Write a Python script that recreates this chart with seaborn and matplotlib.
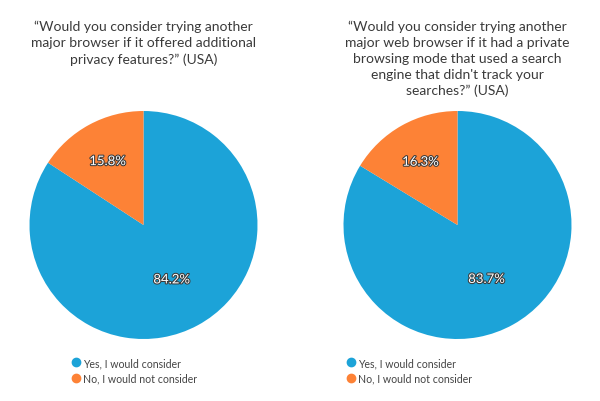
import matplotlib
matplotlib.use('Agg')
import numpy as np
import seaborn as sns
import matplotlib.pyplot as plt
import matplotlib.patheffects as pe
from matplotlib.lines import Line2D

sns.set_theme(style='white')
plt.rcParams['font.family'] = ['Lato', 'DejaVu Sans']

labels = ['Yes, I would consider', 'No, I would not consider']
left_vals = [84.2, 15.8]
right_vals = [83.7, 16.3]
titles = [
    '\u201cWould you consider trying another\nmajor browser if it offered additional\nprivacy features?\u201d (USA)',
    '\u201cWould you consider trying another\nmajor web browser if it had a private\nbrowsing mode that used a search\nengine that didn\'t track your\nsearches?\u201d (USA)',
]
colors = ['#1ca3d8', '#fd8236']

fig = plt.figure(figsize=(6, 4.02), dpi=100)
fig.patch.set_facecolor('white')

centers_px = [143.5, 457.5]
radius_px = 114
cy_px = 226
W, H = 600, 402

for i, vals in enumerate([left_vals, right_vals]):
    cx = centers_px[i]
    ax = fig.add_axes([(cx - radius_px) / W, (H - cy_px - radius_px) / H,
                       2 * radius_px / W, 2 * radius_px / H])
    wedges, texts, autotexts = ax.pie(
        vals, colors=colors, startangle=90, counterclock=False,
        autopct='%.1f%%', pctdistance=0.55,
        wedgeprops=dict(linewidth=0),
        textprops=dict(color='white', fontsize=9.5))
    # small slice label sits further out than the big one
    for w, t, v in zip(wedges, autotexts, vals):
        ang = np.deg2rad((w.theta1 + w.theta2) / 2)
        d = 0.52 if v > 50 else 0.66
        t.set_position((d * np.cos(ang), d * np.sin(ang) - 0.02))
        t.set_path_effects([pe.withStroke(linewidth=1.5, foreground='#3a3a3a')])
    ax.set_xlim(-1, 1)
    ax.set_ylim(-1, 1)
    ax.set_aspect('equal')
    ax.axis('off')

    fig.text(cx / W, 1 - 21 / H, titles[i], ha='center', va='top',
             fontsize=10, color='#3a3a3a', linespacing=1.38)

    handles = [Line2D([0], [0], marker='o', linestyle='', markersize=6,
                      markerfacecolor=c, markeredgecolor=c) for c in colors]
    leg_x = [71, 346][i]
    fig.legend(handles, labels, loc='upper left',
               bbox_to_anchor=(leg_x / W, 1 - 358 / H),
               frameon=False, fontsize=7.6, handletextpad=0.1,
               handlelength=1.0, borderpad=0, borderaxespad=0,
               labelspacing=0.45, labelcolor='#444444')

fig.savefig('out.png', dpi=100, facecolor='white')
